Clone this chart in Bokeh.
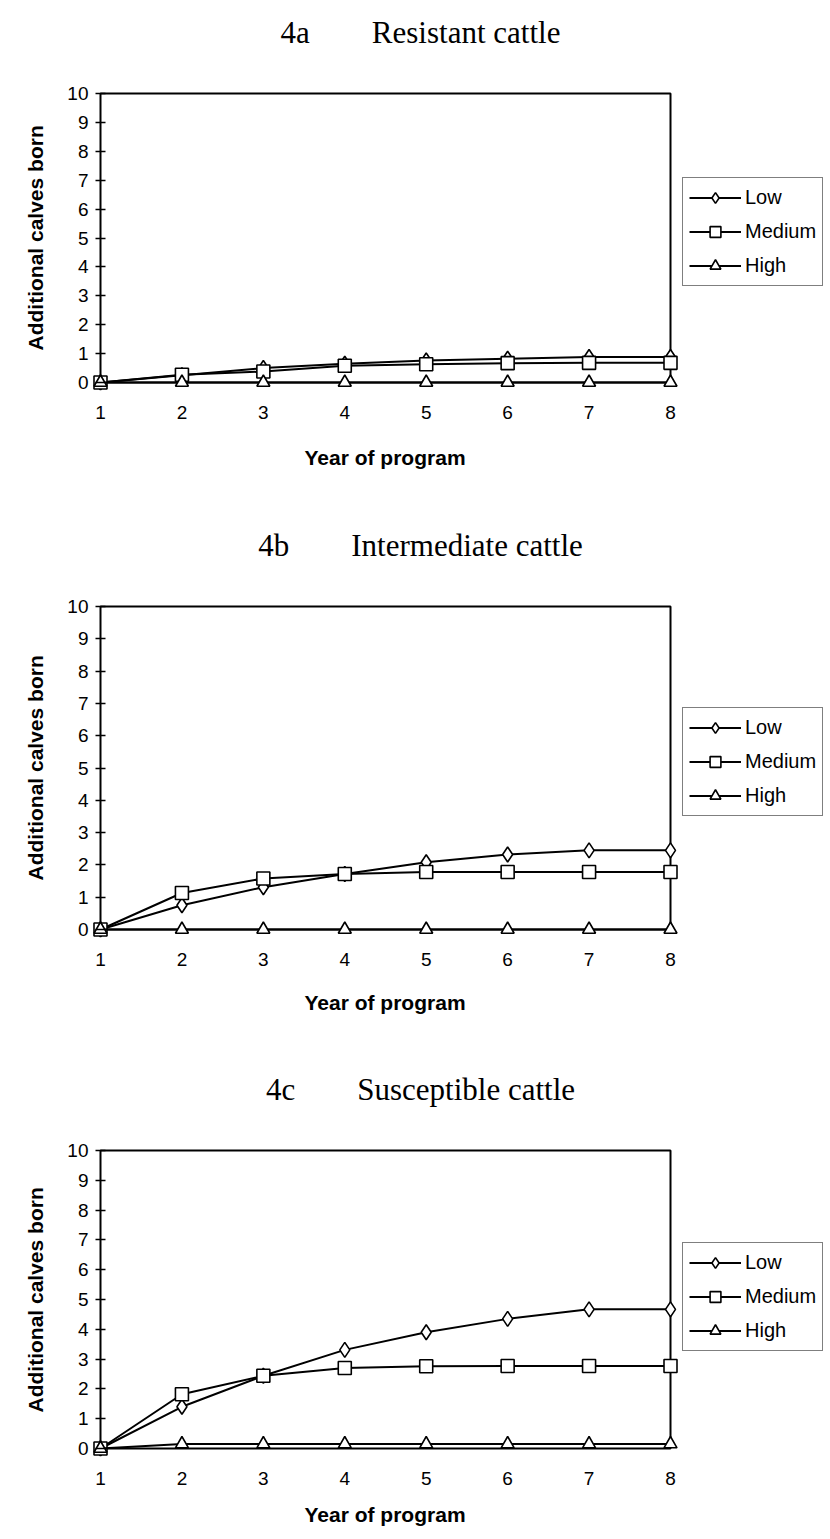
from bokeh.plotting import figure
from bokeh.layouts import column
from bokeh.models import FixedTicker, BoxAnnotation, Legend, LegendItem, Range1d, Title, Label
from bokeh.embed import file_html
from bokeh.resources import INLINE

years = [1, 2, 3, 4, 5, 6, 7, 8]
y_ticks = [0, 1, 2, 3, 4, 5, 6, 7, 8, 9, 10]
series_names = ["Low", "Medium", "High"]

# 4a Resistant cattle
a_low = [0, 0.25, 0.50, 0.65, 0.76, 0.82, 0.88, 0.88]
a_med = [0, 0.27, 0.38, 0.58, 0.63, 0.67, 0.68, 0.68]
a_high = [0, 0, 0, 0, 0, 0, 0, 0]

# 4b Intermediate cattle
b_low = [0, 0.75, 1.31, 1.72, 2.08, 2.32, 2.45, 2.45]
b_med = [0, 1.13, 1.58, 1.72, 1.78, 1.78, 1.78, 1.78]
b_high = [0, 0, 0, 0, 0, 0, 0, 0]

# 4c Susceptible cattle
c_low = [0, 1.40, 2.44, 3.31, 3.90, 4.35, 4.67, 4.67]
c_med = [0, 1.82, 2.44, 2.70, 2.76, 2.77, 2.77, 2.77]
c_high = [0, 0.15, 0.15, 0.15, 0.15, 0.15, 0.15, 0.15]

titles = ["4a\u2003\u2003Resistant cattle",
          "4b\u2003\u2003Intermediate cattle",
          "4c\u2003\u2003Susceptible cattle"]
x_title = "Year of program"
y_title = "Additional calves born"

SANS = "Liberation Sans"
SERIF = "Liberation Serif"
markers = ["diamond", "square", "triangle"]
msizes = [15, 13, 13]

FIG_W = 830
LEFT = 92        # frame left (px)
PAD = 8          # px between frame edge and data box
BOX_W = 570      # px width of the data box (year 1 .. year 8)
TITLE_CX = 320   # px from box left to title centre
TITLE_UP = 61    # px from box top to title baseline
XLAB_W = 162     # approx. rendered width of x title
YLAB_W = 225     # approx. rendered width of y title


def make_panel(title, low, med, high, box_h, ext_top, bottom, legend_y, xlab_standoff):
    u = BOX_W / (years[-1] - years[0])          # px per year
    uy = box_h / (y_ticks[-1] - y_ticks[0])     # px per calf
    frame_w = FIG_W - LEFT
    x0 = years[0] - PAD / u
    y0 = y_ticks[0] - PAD / uy
    frame_h = PAD + box_h + ext_top
    p = figure(width=FIG_W, height=frame_h + bottom,
               x_range=Range1d(x0, x0 + frame_w / u),
               y_range=Range1d(y0, y0 + frame_h / uy),
               output_backend="svg", toolbar_location=None,
               min_border_left=LEFT, min_border_right=0,
               min_border_top=0, min_border_bottom=bottom)

    p.outline_line_color = None
    p.background_fill_color = "white"
    p.border_fill_color = "white"
    p.xgrid.visible = False
    p.ygrid.visible = False

    # panel title (serif, centred above the plot box)
    p.add_layout(Label(x=years[0] + TITLE_CX / u, y=y_ticks[-1] + TITLE_UP / uy,
                       text=title, text_font=SERIF, text_font_size="31px",
                       text_color="black", text_align="center",
                       text_baseline="alphabetic"))

    p.xaxis.ticker = FixedTicker(ticks=years)
    p.yaxis.ticker = FixedTicker(ticks=y_ticks)
    for ax in (p.xaxis[0], p.yaxis[0]):
        ax.axis_line_color = None
        ax.minor_tick_line_color = None
        ax.major_label_text_font = SANS
        ax.major_label_text_font_size = "19px"
        ax.major_label_text_color = "black"
    p.xaxis.major_tick_line_color = None
    p.xaxis.major_tick_in = 0
    p.xaxis.major_tick_out = 0
    p.xaxis.major_label_standoff = 15

    xt = Title(text=x_title, text_font=SANS, text_font_size="21px",
               text_font_style="bold", text_color="black",
               align="left", offset=int(PAD + BOX_W / 2 - XLAB_W / 2),
               standoff=xlab_standoff)
    p.add_layout(xt, "below")

    p.yaxis.major_tick_line_color = "black"
    p.yaxis.major_tick_line_width = 1.5
    p.yaxis.major_tick_in = 13
    p.yaxis.major_tick_out = -3
    p.yaxis.major_label_standoff = 4

    yt = Title(text=y_title, text_font=SANS, text_font_size="21px",
               text_font_style="bold", text_color="black",
               align="left", vertical_align="middle",
               offset=int(PAD + box_h / 2 - YLAB_W / 2), standoff=34)
    p.add_layout(yt, "left")

    box = BoxAnnotation(left=years[0], right=years[-1], bottom=y_ticks[0], top=y_ticks[-1],
                        fill_color=None, line_color="black", line_alpha=1.0,
                        line_width=2, level="underlay")
    p.add_layout(box)

    items = []
    for name, vals, mk, ms in zip(series_names, [low, med, high], markers, msizes):
        ln = p.line(years, vals, line_color="black", line_width=2)
        sc = p.scatter(years, vals, marker=mk, size=ms, fill_color="white",
                       line_color="black", line_width=1.6)
        items.append(LegendItem(label=name, renderers=[ln, sc]))

    legend = Legend(items=items, location=(PAD + BOX_W + 12, legend_y),
                    border_line_color="black", border_line_width=1.5,
                    background_fill_color="white", background_fill_alpha=1,
                    label_text_font=SANS, label_text_font_size="20px",
                    label_text_color="black",
                    glyph_width=52, glyph_height=27, label_height=27,
                    spacing=7, padding=6, label_standoff=4, margin=0)
    p.add_layout(legend)
    return p


pa = make_panel(titles[0], a_low, a_med, a_high, 289, 93, 110, 104, 44)
pb = make_panel(titles[1], b_low, b_med, b_high, 323, 106, 103, 121, 40)
pc = make_panel(titles[2], c_low, c_med, c_high, 298, 110, 83, 105, 26)

layout = column(pa, pb, pc, spacing=0)
open("out.html", "w").write(file_html(layout, INLINE))
